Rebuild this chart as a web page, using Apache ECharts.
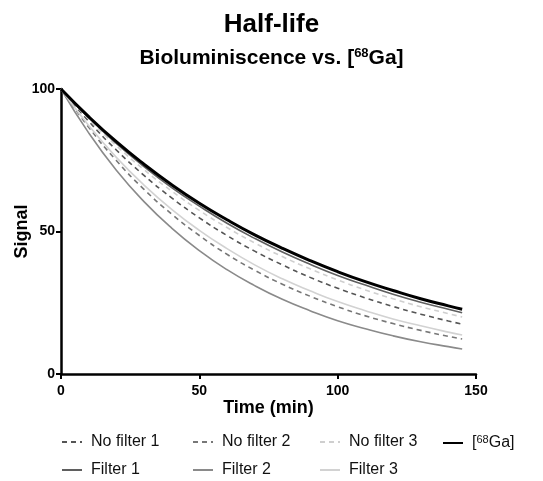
<!DOCTYPE html>
<html><head><meta charset="utf-8">
<script src="https://cdn.jsdelivr.net/npm/echarts@6/dist/echarts.min.js"></script>
<style>html,body{margin:0;padding:0;background:#fff}#c{width:543px;height:481px}</style>
</head><body><div id="c"></div>
<script>
var times = [0,10,20,30,40,50,60,70,80,90,100,110,120,130,140,145];
var noFilter1 = [100,88.7,78.6,69.7,61.8,54.8,48.6,43.1,38.3,33.9,30.1,26.7,23.7,21.0,18.6,17.5];
var noFilter2 = [100,86.6,74.9,64.8,56.1,48.6,42.0,36.4,31.5,27.3,23.6,20.4,17.7,15.3,13.2,12.3];
var noFilter3 = [100,89.5,80.1,71.7,64.2,57.4,51.4,46.0,41.2,36.9,33.0,29.5,26.4,23.6,21.2,20.0];
var filter1 = [100,89.9,80.9,72.8,65.4,58.9,52.9,47.6,42.8,38.5,34.6,31.2,28.0,25.2,22.7,21.5];
var filter2 = [100,84.6,71.5,60.5,51.2,43.3,36.6,31.0,26.2,22.2,18.7,15.9,13.4,11.3,9.6,8.8];
var filter3 = [100,87.2,76.0,66.3,57.8,50.4,44.0,38.3,33.4,29.2,25.4,22.2,19.3,16.9,14.7,13.7];
var ga68 = [100,90.3,81.5,73.6,66.4,59.9,54.1,48.8,44.1,39.8,35.9,32.4,29.3,26.4,23.9,22.7];
var xTicks = [0,50,100,150];
var yTicks = [0,50,100];

function pairs(v){ return times.map(function(t,i){ return [t, v[i]]; }); }
var FONT = '"Liberation Sans", Arial, sans-serif';
var supRich = { sup: { fontSize: 11, verticalAlign: 'top', padding: [0,0,7,0], fontFamily: FONT, color: '#111' }, n: {fontSize: 16, fontFamily: FONT, color:'#111'} };

var seriesDefs = [
  {name:'No filter 1', data:noFilter1, color:'#555555', type:'dashed', width:1.6},
  {name:'No filter 2', data:noFilter2, color:'#777777', type:'dashed', width:1.6},
  {name:'No filter 3', data:noFilter3, color:'#cfcfcf', type:'dashed', width:1.6},
  {name:'Filter 1', data:filter1, color:'#5f5f5f', type:'solid', width:1.6},
  {name:'Filter 2', data:filter2, color:'#8a8a8a', type:'solid', width:1.6},
  {name:'Filter 3', data:filter3, color:'#d2d2d2', type:'solid', width:1.6},
  {name:'[68Ga]', data:ga68, color:'#000000', type:'solid', width:3}
];

var series = seriesDefs.map(function(s){
  return {
    name: s.name, type: 'line', data: pairs(s.data), smooth: true, symbol: 'none',
    color: s.color,
    lineStyle: {color: s.color, width: s.width, type: s.type === 'dashed' ? [5,4] : 'solid'},
    z: s.name === '[68Ga]' ? 10 : 2
  };
});

var legendPos = {
  'No filter 1':[56,429], 'No filter 2':[187,429], 'No filter 3':[314,429], '[68Ga]':[437,429],
  'Filter 1':[56,457], 'Filter 2':[187,457], 'Filter 3':[314,457]
};
var legends = Object.keys(legendPos).map(function(n){
  return {
    data:[n], left: legendPos[n][0], top: legendPos[n][1], itemWidth: 20, itemHeight: 14, itemGap: 10,
    itemStyle: {color: 'transparent', borderColor: 'transparent', borderWidth: 0, opacity: 0},
    textStyle: {fontFamily: FONT, fontSize: 16, color: '#111', rich: supRich, padding: [0,0,0,4]},
    formatter: function(name){ return name === '[68Ga]' ? '{n|[}{sup|68}{n|Ga]}' : name; }
  };
});

var chart = echarts.init(document.getElementById('c'));
chart.setOption({
  animation: false,
  backgroundColor: '#fff',
  title: [
    {text: 'Half-life', left: 'center', top: 7, textStyle: {fontFamily: FONT, fontSize: 26, fontWeight: 'bold', color: '#000'}},
    {text: '{a|Bioluminiscence vs. [}{s|68}{a|Ga]}', left: 'center', top: 42,
     textStyle: {rich: {a:{fontFamily: FONT, fontSize: 21, fontWeight:'bold', color:'#000'}, s:{fontFamily: FONT, fontSize: 13, fontWeight:'bold', color:'#000', verticalAlign:'top', padding:[0,0,9,0]}}}}
  ],
  legend: legends,
  grid: {left: 61, right: 67, top: 89, bottom: 107, containLabel: false, outerBoundsMode: 'none'},
  xAxis: {
    type: 'value', min: 0, max: 150, interval: 50,
    name: 'Time (min)', nameLocation: 'middle', nameGap: 25, nameMoveOverlap: false,
    nameTextStyle: {fontFamily: FONT, fontSize: 18, fontWeight: 'bold', color: '#000'},
    axisLine: {lineStyle: {color: '#000', width: 2.5}},
    axisTick: {show: true, length: 5, lineStyle: {color: '#000', width: 2}},
    axisLabel: {fontFamily: FONT, fontSize: 14, fontWeight: 'bold', color: '#000', margin: 10,
      formatter: function(v){ return xTicks.indexOf(v) >= 0 ? String(v) : ''; }},
    splitLine: {show: false}
  },
  yAxis: {
    type: 'value', min: 0, max: 100, interval: 50,
    name: 'Signal', nameLocation: 'middle', nameGap: 30, nameRotate: 90, nameMoveOverlap: false,
    nameTextStyle: {fontFamily: FONT, fontSize: 18, fontWeight: 'bold', color: '#000'},
    axisLine: {show: true, lineStyle: {color: '#000', width: 2.5}},
    axisTick: {show: true, length: 5, lineStyle: {color: '#000', width: 2}},
    axisLabel: {fontFamily: FONT, fontSize: 14, fontWeight: 'bold', color: '#000', margin: 6,
      formatter: function(v){ return yTicks.indexOf(v) >= 0 ? String(v) : ''; }},
    splitLine: {show: false}
  },
  series: series
});
</script></body></html>
